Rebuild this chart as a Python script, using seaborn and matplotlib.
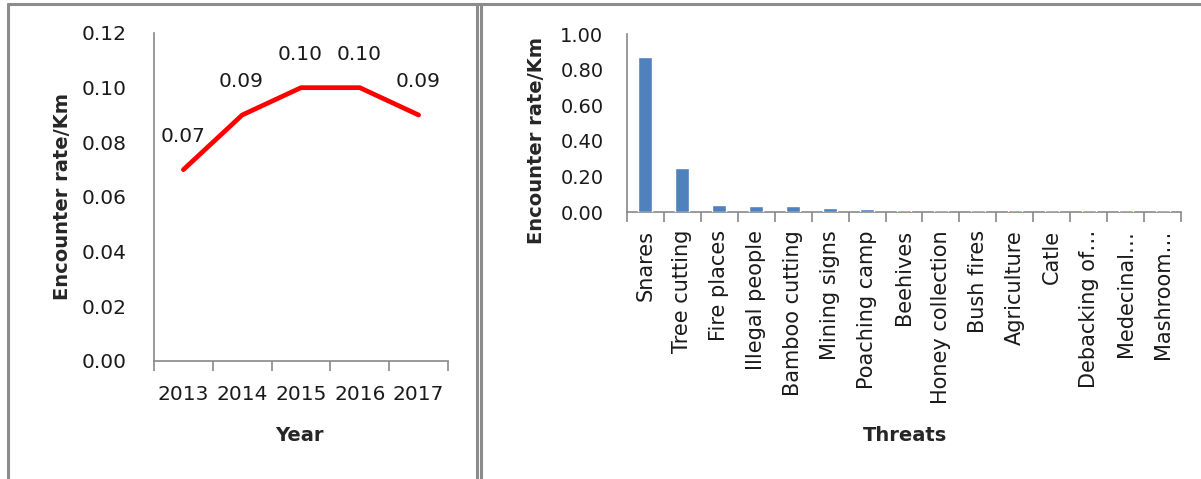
import numpy as np
import pandas as pd
import matplotlib
matplotlib.use("Agg")
import matplotlib.pyplot as plt
from matplotlib.ticker import FormatStrFormatter, FixedLocator
from matplotlib.lines import Line2D
import seaborn as sns

years = ["2013", "2014", "2015", "2016", "2017"]
year_rates = [0.07, 0.09, 0.10, 0.10, 0.09]

threats = ["Snares", "Tree cutting", "Fire places", "Illegal people", "Bamboo cutting",
           "Mining signs", "Poaching camp", "Beehives", "Honey collection", "Bush fires",
           "Agriculture", "Catle", "Debacking of\u2026", "Medecinal\u2026", "Mashroom\u2026"]
threat_rates = [0.873, 0.245, 0.04, 0.032, 0.032, 0.025, 0.016, 0.009, 0.009, 0.009,
                0.009, 0.009, 0.009, 0.009, 0.009]

sns.set_style("white")
plt.rcParams['font.family'] = ['DejaVu Sans']
grey = "#898989"
txt = "#1a1a1a"

fig = plt.figure(figsize=(12.01, 4.79), dpi=100)

# panel frames
fig.add_artist(Line2D([8/1201, 1], [1 - 4/479] * 2, color="#8c8c8c", lw=2.2))
for xp in (8, 477, 481):
    fig.add_artist(Line2D([xp/1201] * 2, [0, 1 - 4/479], color="#8c8c8c", lw=2.2))

# left: line chart by year
ax1 = fig.add_axes([154/1201, 1 - 361/479, 294/1201, 328/479])
df_year = pd.DataFrame({"Year": years, "rate": year_rates})
sns.lineplot(data=df_year, x="Year", y="rate", ax=ax1, color="#ff0000", lw=3.4, sort=False)
ax1.set_xlim(-0.5, len(years) - 0.5)
ax1.set_ylim(0, 0.12)
ax1.set_yticks(np.arange(0, 0.121, 0.02))
ax1.yaxis.set_major_formatter(FormatStrFormatter("%.2f"))
for i, v in enumerate(year_rates):
    ax1.annotate(f"{v:.2f}", (i, v), xytext=(-0.5, 24), textcoords="offset points",
                 ha="center", va="center", fontsize=14.5, color=txt)
ax1.set_xlabel("Year", fontsize=14, fontweight="bold")
ax1.set_ylabel("Encounter rate/Km", fontsize=14, fontweight="bold")
ax1.xaxis.set_label_coords(0.495, -0.199)
ax1.yaxis.set_label_coords(-0.278, 0.5)

# right: bar chart by threat
ax2 = fig.add_axes([627/1201, 1 - 212/479, 554/1201, 178/479])
df_threat = pd.DataFrame({"Threat": threats, "rate": threat_rates})
sns.barplot(data=df_threat, x="Threat", y="rate", ax=ax2, color="#4f81bd",
            saturation=1, width=0.38, zorder=3)
ax2.set_xlim(-0.5, len(threats) - 0.5)
ax2.set_ylim(0, 1.0)
ax2.set_yticks(np.arange(0, 1.01, 0.2))
ax2.yaxis.set_major_formatter(FormatStrFormatter("%.2f"))
ax2.set_xticks(range(len(threats)))
ax2.set_xticklabels(threats, rotation=90)
ax2.set_xlabel("Threats", fontsize=14, fontweight="bold")
ax2.set_ylabel("Encounter rate/Km", fontsize=14, fontweight="bold")
ax2.xaxis.set_label_coords(0.502, -1.202)
ax2.yaxis.set_label_coords(-0.147, 0.4)

for ax, n in ((ax1, len(years)), (ax2, len(threats))):
    for side in ("top", "right"):
        ax.spines[side].set_visible(False)
    for side in ("left", "bottom"):
        ax.spines[side].set_color(grey)
        ax.spines[side].set_linewidth(1.2)
    ax.xaxis.set_minor_locator(FixedLocator(np.arange(-0.5, n, 1.0)))
    ax.tick_params(axis="x", which="minor", bottom=True, length=7, width=1.2,
                   color=grey, direction="out")
    ax.tick_params(axis="y", length=6.5, width=1.2, color=grey, direction="out",
                   labelcolor=txt)

ax1.tick_params(axis="x", which="major", length=0, pad=17, labelsize=14.5, labelcolor=txt)
ax1.tick_params(axis="y", labelsize=14.5, pad=13)
ax2.tick_params(axis="x", which="major", length=0, pad=13, labelsize=15, labelcolor=txt)
ax2.tick_params(axis="y", labelsize=14, pad=10.5)

fig.savefig("out.png", dpi=100)
